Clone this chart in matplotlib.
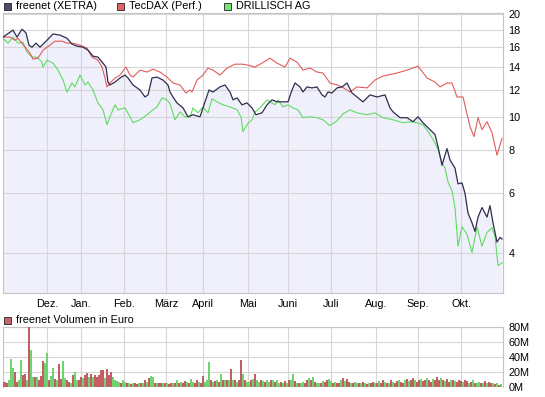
import matplotlib
matplotlib.use('Agg')
import matplotlib.pyplot as plt
from matplotlib.patches import Rectangle
from matplotlib.ticker import NullLocator

plt.rcParams['font.family'] = ['Liberation Sans', 'DejaVu Sans']
plt.rcParams['font.size'] = 7.8

# x axis = trading day index (0 = mid Nov, 250 = end Okt)
month_labels = ['Dez.', 'Jan.', 'Feb.', 'März', 'April', 'Mai', 'Juni', 'Juli', 'Aug.', 'Sep.', 'Okt.']
month_start_day = [22, 39, 60.5, 81.5, 100, 122.5, 142.5, 164, 186.5, 207.5, 229]

price_ticks = [4, 6, 8, 10, 12, 14, 16, 18, 20]
volume_ticks = [0, 20, 40, 60, 80]

# freenet (XETRA)
freenet_day = [0, 5, 7, 9.5, 11.5, 13, 14.5, 16.5, 18.5, 22, 25, 28.5, 32, 34.5, 37, 40, 42.5, 45,
               47.5, 50, 51.5, 52.5, 53.5, 56, 58.5, 61, 62.5, 65, 68.5, 71, 72.5, 74.5, 77, 80,
               82.5, 83.5, 85, 87, 90, 92.5, 95, 98.5, 100, 103, 105, 108.5, 111, 113.5, 115, 117,
               119.5, 122, 124.5, 126.5, 129.5, 132, 134.5, 137, 139.5, 142.5, 144.5, 146, 148.5,
               150, 152, 154.5, 157, 159.5, 161, 162.5, 164.5, 167, 169.5, 172, 174.5, 177, 180,
               183.5, 187, 191, 193.5, 195, 198.5, 202, 205, 207.5, 210, 212.5, 216, 217.5, 219.5,
               222, 223.5, 226, 227.5, 229.5, 231, 232.5, 234.5, 236, 237.5, 239.5, 242, 243.5,
               245, 247, 248.5, 249.5]
freenet = [17.13, 17.96, 17.13, 18.07, 17.62, 16.23, 16.01, 16.45, 16.01, 16.78, 17.5, 17.36, 17.0,
           16.34, 16.12, 16.01, 15.69, 15.07, 14.97, 14.38, 14.0, 12.66, 12.41, 12.66, 13.01, 13.27,
           13.01, 12.41, 12.0, 11.45, 11.61, 13.01, 13.09, 12.83, 12.41, 11.84, 11.45, 11.0, 10.64,
           10.02, 10.16, 10.02, 10.64, 12.0, 11.84, 12.25, 12.41, 11.84, 11.23, 11.38, 10.86, 11.0,
           10.64, 10.16, 10.29, 10.86, 11.23, 11.08, 11.08, 11.08, 12.0, 12.58, 12.25, 11.84, 12.25,
           12.17, 12.25, 11.61, 11.45, 11.84, 11.76, 12.17, 12.25, 12.58, 11.76, 11.45, 11.08, 11.61,
           11.45, 11.61, 10.64, 10.36, 9.96, 9.96, 9.69, 10.02, 9.63, 9.31, 8.89, 8.20, 7.23, 8.09,
           7.49, 7.09, 6.38, 6.42, 5.99, 5.24, 4.91, 4.63, 5.10, 5.44, 5.10, 5.51, 4.91, 4.31, 4.45,
           4.40]

# TecDAX (Perf.)
tecdax_day = [0, 3.5, 6, 7.5, 11, 13.5, 15, 17.5, 20, 23.5, 26, 29.5, 32, 35, 38.5, 42, 44.5, 47.5,
              49.5, 51, 52, 53.5, 56, 58.5, 61.5, 63.5, 65, 68.5, 72, 75, 78.5, 82, 85, 88.5, 91.5,
              93.5, 94.5, 97, 100, 102.5, 105, 108.5, 112, 116, 119.5, 122.5, 126, 129.5, 133.5,
              137, 141, 143.5, 147, 150, 153.5, 157, 160, 163.5, 167, 169.5, 173.5, 177, 182, 186,
              190, 197, 202, 207.5, 212, 216, 218.5, 222, 224.5, 227, 230, 233.5, 235.5, 237.5,
              239.5, 242, 244.5, 247, 249.5]
tecdax = [17.13, 17.13, 16.78, 17.0, 16.01, 15.38, 14.77, 14.87, 15.69, 16.23, 16.67, 16.67, 16.45,
          16.45, 16.23, 15.90, 14.97, 14.67, 14.0, 13.01, 12.25, 12.58, 13.01, 13.27, 14.0, 13.27,
          13.09, 13.72, 13.54, 13.81, 13.54, 13.09, 12.58, 12.41, 11.76, 12.0, 11.84, 12.83, 13.27,
          13.91, 13.72, 13.27, 13.91, 14.28, 14.28, 14.19, 14.0, 14.38, 14.87, 14.38, 14.0, 14.87,
          14.47, 13.72, 13.91, 13.54, 13.45, 12.58, 12.41, 12.25, 11.84, 12.25, 12.17, 12.83, 13.18,
          13.45, 13.72, 14.09, 13.01, 12.66, 12.25, 12.58, 12.58, 11.45, 11.45, 9.38, 8.77, 9.96,
          9.19, 9.69, 9.01, 7.74, 8.65]

# DRILLISCH AG
drillisch_day = [0, 2.5, 5, 7.5, 10, 12, 14.5, 17, 19.5, 20, 22, 25, 27.5, 30, 32, 34.5, 36, 38.5,
                 41, 42.5, 45, 47.5, 50, 52, 53.5, 56, 57.5, 61, 63.5, 65, 68.5, 72, 75, 77, 79.5,
                 82, 83.5, 86, 88.5, 91, 93.5, 95, 97.5, 100, 102.5, 104.5, 107, 110, 113.5, 117,
                 119, 120, 122, 124.5, 126, 128.5, 132, 133.5, 136, 137.5, 140, 142.5, 145, 147.5,
                 150, 153.5, 157, 160, 163.5, 167, 170, 173.5, 177, 182, 186, 190, 195, 200, 204.5,
                 207, 210, 212.5, 215, 217.5, 219.5, 221, 222.5, 224.5, 226, 227.5, 229.5, 232,
                 234.5, 237, 239.5, 242, 244.5, 246, 247.5, 249.5]
drillisch = [17.0, 16.45, 17.13, 16.45, 16.56, 15.48, 14.97, 14.97, 14.47, 14.0, 14.67, 14.38, 13.72,
             12.83, 11.84, 12.58, 12.25, 13.27, 12.41, 12.66, 12.0, 11.0, 10.50, 9.50, 10.02, 10.86,
             10.50, 10.64, 10.02, 9.63, 9.82, 10.16, 10.50, 10.71, 11.38, 11.23, 10.93, 9.82, 10.36,
             10.02, 10.02, 10.64, 10.29, 10.71, 10.29, 11.31, 11.08, 10.86, 10.71, 10.50, 10.02, 9.07,
             9.50, 9.82, 10.36, 10.64, 11.23, 11.08, 10.86, 11.23, 10.71, 10.86, 10.64, 10.50, 9.96,
             10.02, 9.96, 9.82, 9.44, 9.76, 10.22, 10.50, 10.29, 10.16, 10.29, 9.96, 9.82, 9.63, 9.69,
             9.63, 9.50, 9.07, 8.60, 8.05, 7.34, 7.09, 6.46, 6.09, 5.44, 4.19, 4.78, 4.54, 4.02, 4.78,
             4.19, 4.60, 4.75, 4.48, 3.68, 3.75]

# freenet Volumen in Euro (Mio.), one bar per trading day
volume = [7, 7, 6, 9, 38, 25, 20, 7, 9, 36,
          16, 17, 9, 80, 49, 14, 14, 14, 9, 15,
          35, 32, 45, 10, 15, 25, 11, 9, 31, 11,
          35, 12, 9, 7, 6, 16, 20, 10, 9, 14,
          12, 16, 19, 13, 18, 13, 16, 13, 16, 23,
          23, 12, 24, 16, 20, 14, 9, 8, 7, 6,
          9, 7, 5, 5, 4, 6, 5, 4, 6, 5,
          6, 9, 7, 12, 15, 14, 6, 5, 6, 5,
          5, 6, 5, 4, 5, 6, 5, 9, 6, 7,
          6, 8, 7, 6, 11, 7, 6, 9, 7, 6,
          15, 7, 9, 34, 9, 7, 8, 9, 7, 17,
          9, 9, 9, 9, 24, 9, 9, 7, 9, 36,
          17, 9, 7, 7, 9, 11, 17, 9, 7, 9,
          8, 7, 9, 7, 9, 10, 7, 10,
          6, 7, 5, 8, 6, 9, 10, 17, 8, 6,
          5, 6, 7, 6, 9, 12, 10, 13, 7, 6,
          5, 6, 8, 7, 9, 11, 8, 6, 7, 5,
          6, 9, 12, 8, 11, 7, 6, 5, 7, 6,
          5, 6, 7, 5, 4, 6, 5, 7, 6, 5,
          8, 6, 10, 7, 5, 6, 9, 7, 6, 8,
          10, 7, 6, 9, 11, 8, 10, 12, 9, 7,
          10, 11, 8, 9, 12, 10, 7, 11, 9, 13,
          10, 12, 9, 8, 11, 7, 9, 10, 8, 7,
          9, 8, 7, 10, 8, 6, 7, 9, 6, 5,
          7, 6, 5, 8, 6, 7, 5, 6, 4, 5,
          3, 4]
# g = up day, r = down day
volume_dir = ("rrrgggrrgg" "rrgrggrgrr" "rggrggrgrr" "ggrrgrggrr" "grrgrgrrrr"
              "rgrrrggggr" "ggrgrgrrgr" "grgrggrgrr" "grgrrgrgrg" "rrgrggrrgr"
              "rgggrgrgrg" "rgrgrgrgrr" "grggrgrggr" "grggrgrg"
              "grgrgrggrg" "rggrrgrgrg" "grgrrggrgr" "rgrgrrgrgg" "rgrgrgrrgr"
              "grrgrgrgrr" "grrgrgrrgr" "rgrrgrrgrr" "rgrgrrgrgr" "rrgrrgrgrg"
              "grgrgrrgrg" "rg")

c_freenet = '#2e2e4c'
c_tecdax = '#e05c5c'
c_drill = '#5fdc5f'
c_fill = '#f0f0fd'
c_grid = '#d6d6d6'
c_frame = '#c4c4c4'
c_vol_up = '#6fd46f'
c_vol_dn = '#c45e66'

W, H = 545, 397
fig = plt.figure(figsize=(W / 100, H / 100), dpi=100)
fig.patch.set_facecolor('white')


def px_axes(x0, y0, x1, y1):
    return fig.add_axes([x0 / W, 1 - y1 / H, (x1 - x0) / W, (y1 - y0) / H])


def style_frame(ax):
    for s in ax.spines.values():
        s.set_color(c_frame)
        s.set_linewidth(0.8)
    ax.set_xticks(month_start_day)
    ax.grid(True, color=c_grid, linewidth=0.8)
    ax.tick_params(axis='both', length=0, colors='black')
    ax.tick_params(axis='y', left=False, labelleft=False, right=True, labelright=True, pad=4)


# ---- price panel ----
ax = px_axes(3, 13, 503, 293)
ax.set_yscale('log')
ax.fill_between(freenet_day, freenet, 2.5, color=c_fill, linewidth=0, zorder=1)
ax.plot(drillisch_day, drillisch, color=c_drill, linewidth=0.8, zorder=3)
ax.plot(tecdax_day, tecdax, color=c_tecdax, linewidth=0.8, zorder=4)
ax.plot(freenet_day, freenet, color=c_freenet, linewidth=0.9, zorder=5)
ax.set_xlim(0, 250)
ax.set_ylim(3.06, 20.15)
ax.set_yticks(price_ticks)
ax.set_yticklabels([str(t) for t in price_ticks])
ax.yaxis.set_minor_locator(NullLocator())
style_frame(ax)
ax.set_xticklabels(month_labels)
ax.tick_params(axis='x', pad=4)

# ---- volume panel ----
axv = px_axes(3, 327, 503, 387)
vol_days = list(range(len(volume)))
vol_colors = [c_vol_up if d == 'g' else c_vol_dn for d in volume_dir]
axv.bar(vol_days, volume, width=0.55, color=vol_colors, linewidth=0, zorder=3)
axv.set_xlim(0, 250)
axv.set_ylim(0, 80)
axv.set_yticks(volume_ticks)
axv.set_yticklabels([f'{t}M' for t in volume_ticks])
style_frame(axv)
axv.set_xticklabels([])
axv.spines['bottom'].set_visible(False)

# ---- legends ----
def legend_item(x, y, color, label):
    fig.patches.append(Rectangle((x / W, 1 - (y + 3.5) / H), 7 / W, 7 / H,
                                 transform=fig.transFigure, facecolor=color,
                                 edgecolor='#222222', linewidth=0.6))
    fig.text((x + 12) / W, 1 - y / H, label, ha='left', va='center', fontsize=7.8)


legend_item(3.5, 6, '#4c4c6c', 'freenet (XETRA)')
legend_item(117, 6, '#e06666', 'TecDAX (Perf.)')
legend_item(224, 6, '#77e677', 'DRILLISCH AG')
legend_item(3.5, 320, '#c86470', 'freenet Volumen in Euro')

fig.savefig('out.png', dpi=100, facecolor='white')
